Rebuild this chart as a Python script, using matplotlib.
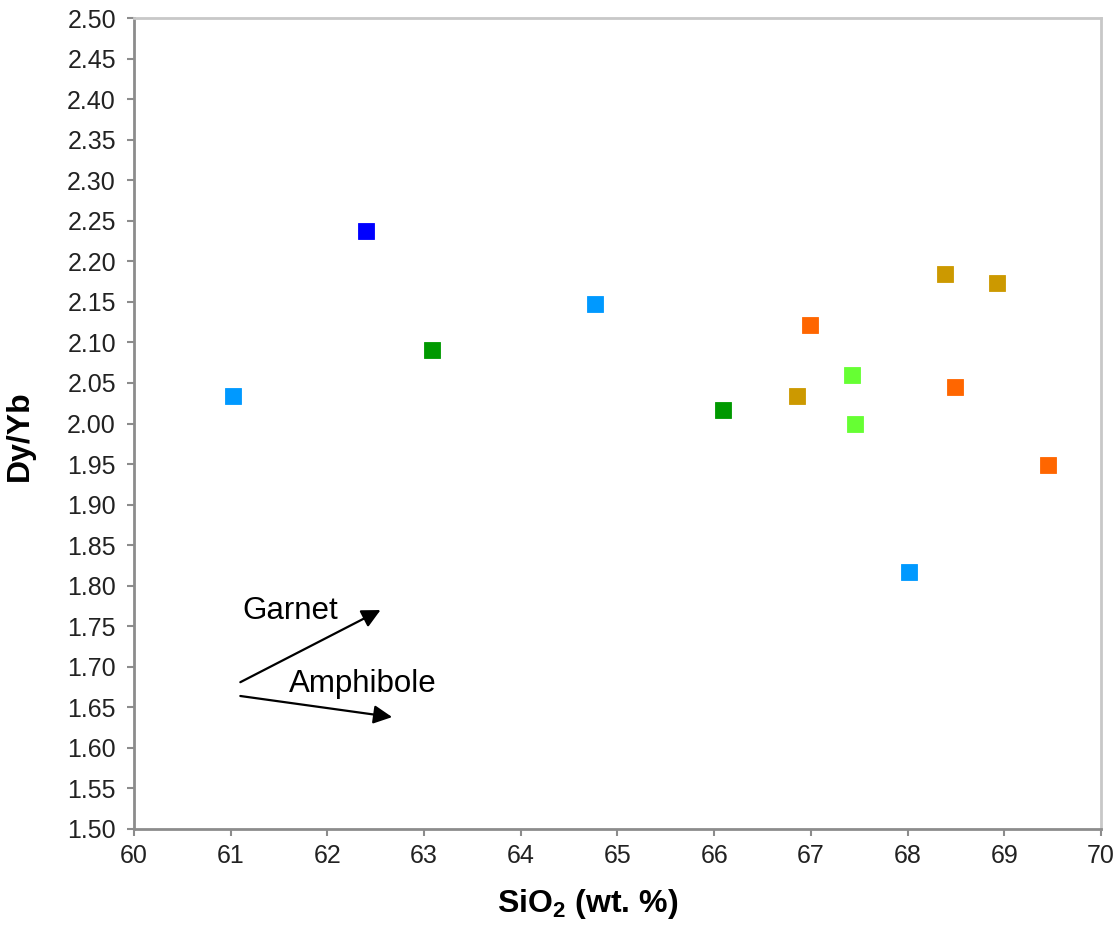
import matplotlib
matplotlib.use("Agg")
import matplotlib.pyplot as plt
from matplotlib.ticker import MultipleLocator, FormatStrFormatter

plt.rcParams['font.family'] = ['Liberation Sans', 'DejaVu Sans']

# SiO2 (wt. %) and Dy/Yb for each sample group
groups = ["A", "B", "C", "D", "E", "F"]
colors = ["#0000FF", "#0099FF", "#009900", "#CC9900", "#FF6600", "#66FF33"]
sio2 = [
    [62.40],
    [61.02, 64.77, 68.01],
    [63.08, 66.09],
    [68.39, 68.93, 66.86],
    [66.99, 68.49, 69.45],
    [67.43, 67.46],
]
dy_yb = [
    [2.237],
    [2.034, 2.147, 1.817],
    [2.091, 2.017],
    [2.184, 2.173, 2.034],
    [2.121, 2.045, 1.949],
    [2.060, 2.000],
]

# fractionation vectors: (label, start, end, label position)
vectors = [
    ("Garnet", (61.10, 1.681), (62.55, 1.770), (61.12, 1.769)),
    ("Amphibole", (61.10, 1.664), (62.67, 1.638), (61.60, 1.679)),
]

fig = plt.figure(figsize=(11.2, 9.25), dpi=100)
ax = fig.add_axes([0.1196, 0.1038, 0.8634, 0.8767])

for name, c, xs, ys in zip(groups, colors, sio2, dy_yb):
    ax.plot(xs, ys, linestyle="none", marker="s", markersize=11.5,
            color=c, markeredgecolor=c, markeredgewidth=0.6, label=name)

for label, start, end, tpos in vectors:
    ax.annotate("", xy=end, xytext=start,
                arrowprops=dict(arrowstyle="-|>", color="black", lw=1.6,
                                mutation_scale=28, shrinkA=0, shrinkB=0))
    ax.text(tpos[0], tpos[1], label, fontsize=22.5, va="center", ha="left")

ax.set_xlim(60, 70)
ax.set_ylim(1.50, 2.50)
ax.xaxis.set_major_locator(MultipleLocator(1))
ax.yaxis.set_major_locator(MultipleLocator(0.05))
ax.yaxis.set_major_formatter(FormatStrFormatter("%.2f"))

for side in ("left", "bottom"):
    ax.spines[side].set_color("#8c8c8c")
    ax.spines[side].set_linewidth(2)
for side in ("top", "right"):
    ax.spines[side].set_color("#c8c8c8")
    ax.spines[side].set_linewidth(2)

ax.tick_params(axis="both", direction="out", length=5, width=1.5,
               color="#8c8c8c", labelsize=18, labelcolor="#222222", pad=8)
ax.tick_params(axis="x", pad=6)

ax.set_xlabel("SiO$_\\mathregular{2}$ (wt. %)", fontsize=23, fontweight="bold")
ax.xaxis.set_label_coords(0.4695, -0.071)
ax.set_ylabel("Dy/Yb", fontsize=23, fontweight="bold")
ax.yaxis.set_label_coords(-0.1024, 0.4846)

fig.savefig("out.png", dpi=100, facecolor="white")
